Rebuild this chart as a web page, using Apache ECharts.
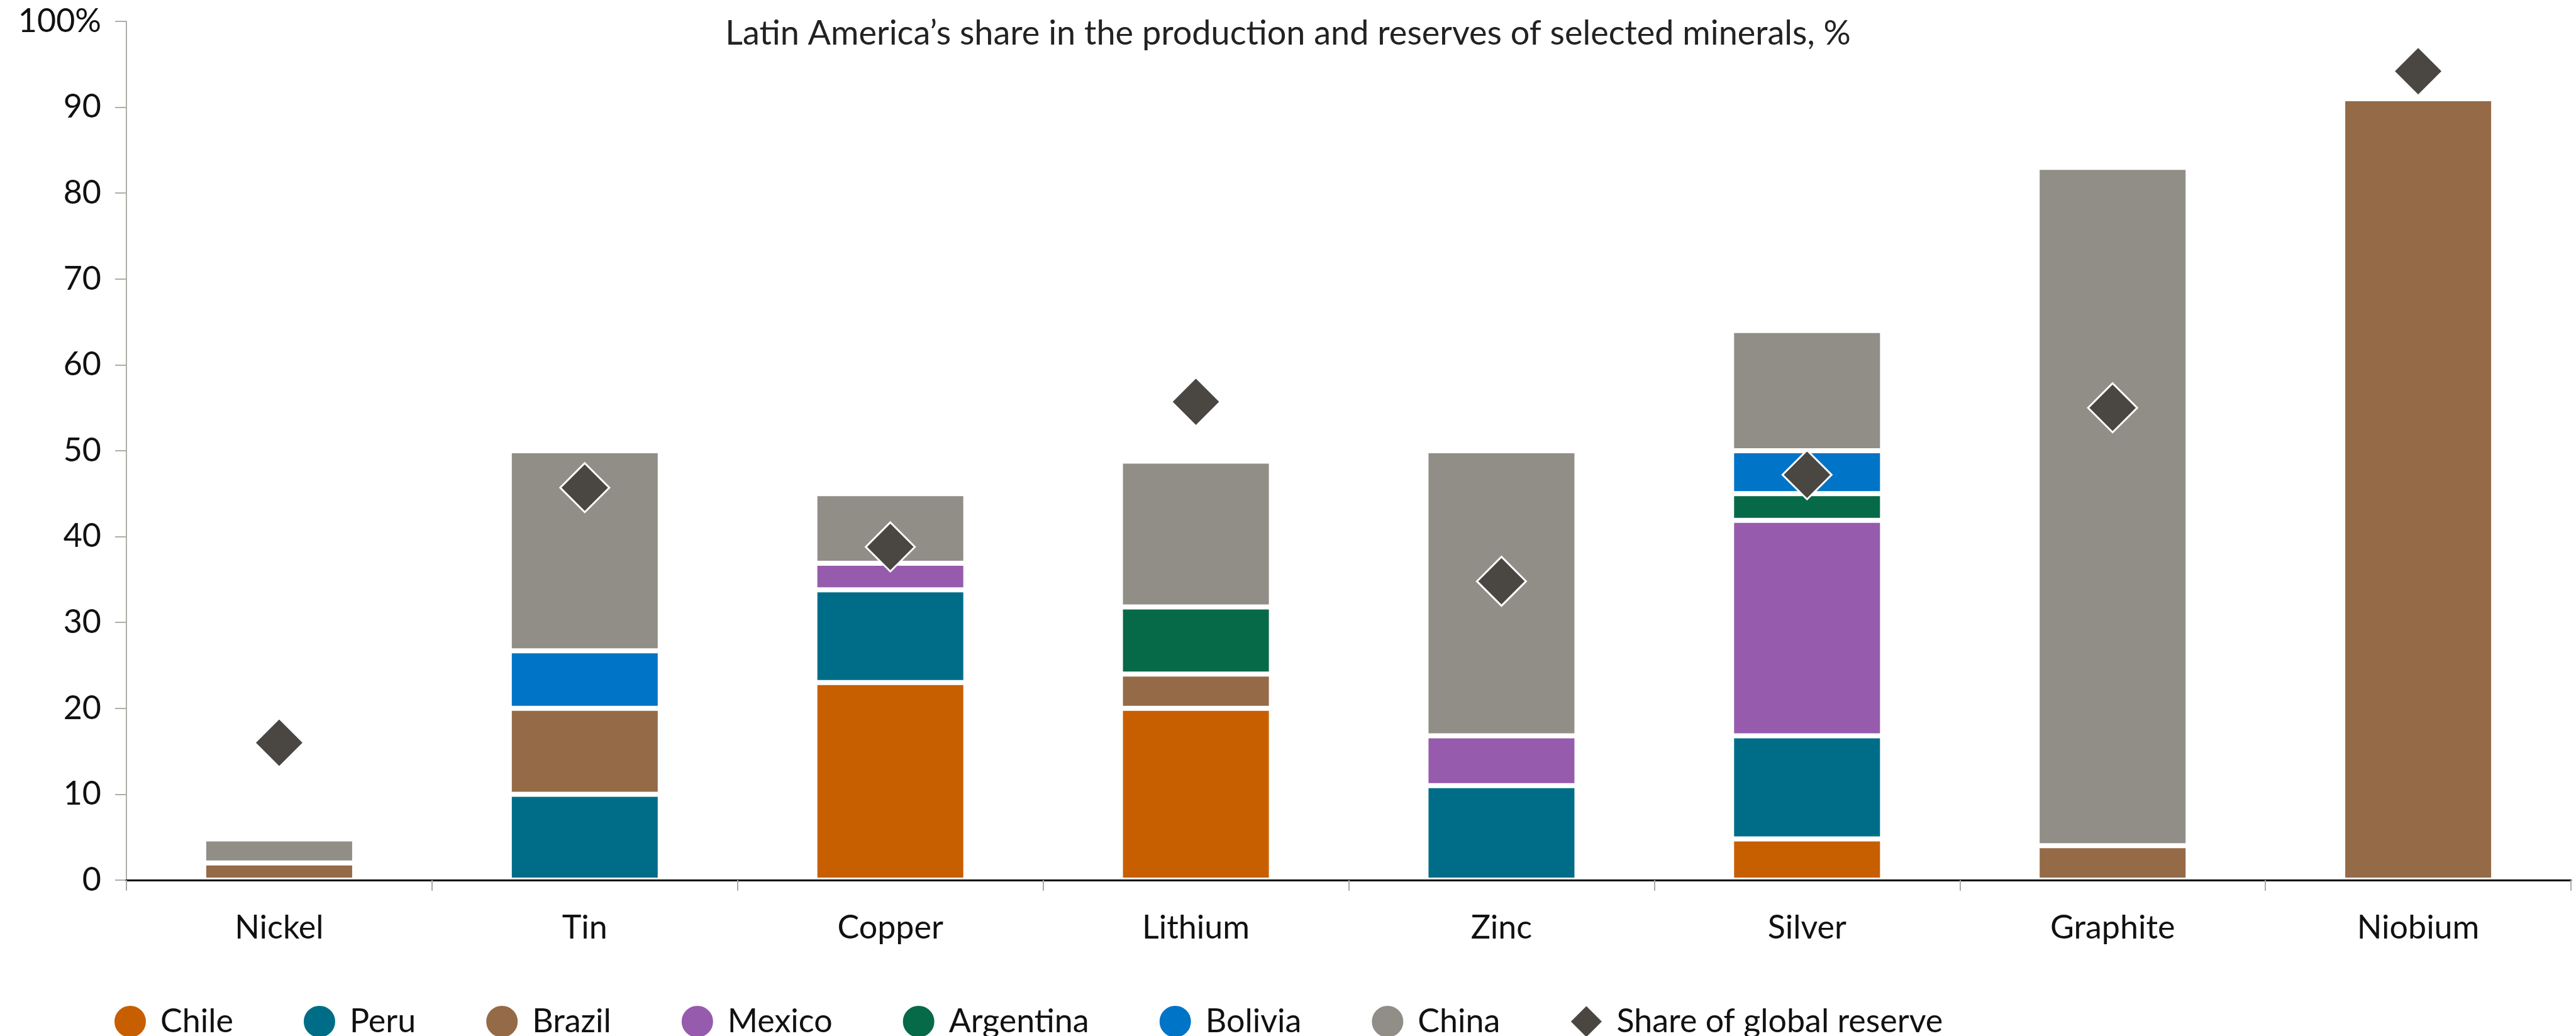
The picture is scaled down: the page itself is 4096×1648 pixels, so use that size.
<!DOCTYPE html>
<html>
<head>
<meta charset="utf-8">
<title>Latin America's share in minerals</title>
<script src="https://cdn.jsdelivr.net/npm/echarts@6/dist/echarts.min.js"></script>
<style>
  html, body { margin: 0; padding: 0; background: #ffffff; }
  #chart { width: 4096px; height: 1648px; }
</style>
</head>
<body>
<div id="chart"></div>
<script>
// Minerals on the category axis
const minerals = ['Nickel', 'Tin', 'Copper', 'Lithium', 'Zinc', 'Silver', 'Graphite', 'Niobium'];

// Production share by country, % (segment heights, stacked bottom to top)
const chile     = [null, null, 23,   20,   null, 4.8,  null, null];
const peru      = [null, 10,   10.8, null, 11,   12,   null, null];
const brazil    = [2,    10,   null, 4,    null, null, 4,    91];
const mexico    = [null, null, 3.1,  null, 5.8,  25.1, null, null];
const argentina = [null, null, null, 7.8,  null, 3.1,  null, null];
const bolivia   = [null, 6.7,  null, null, null, 5,    null, null];
const china     = [2.8,  23.3, 8.1,  17,   33.2, 14,   79,   null];

// Latin America's share of global reserves, %
const reserveShare = [16, 45.7, 38.8, 55.7, 34.8, 47.2, 55, 94.2];

// Value axis ticks
const yTicks = [0, 10, 20, 30, 40, 50, 60, 70, 80, 90, 100];

const FONT = 'Lato, "Liberation Sans", sans-serif';
const TEXT = '#111111';

const stackDefs = [
  { name: 'Chile',     data: chile,     color: '#c75e00' },
  { name: 'Peru',      data: peru,      color: '#006d88' },
  { name: 'Brazil',    data: brazil,    color: '#946a47' },
  { name: 'Mexico',    data: mexico,    color: '#965bad' },
  { name: 'Argentina', data: argentina, color: '#066a48' },
  { name: 'Bolivia',   data: bolivia,   color: '#0074c7' },
  { name: 'China',     data: china,     color: '#918e88' }
];

const barSeries = stackDefs.map(d => ({
  name: d.name,
  type: 'bar',
  stack: 'production',
  barWidth: 240,
  data: d.data,
  itemStyle: { color: d.color, borderColor: '#ffffff', borderWidth: 4 },
  emphasis: { disabled: true }
}));

const chart = echarts.init(document.getElementById('chart'), null, { renderer: 'canvas' });

chart.setOption({
  animation: false,
  backgroundColor: '#ffffff',
  title: {
    text: 'Latin America\u2019s share in the production and reserves of selected minerals, %',
    left: 'center',
    top: 22,
    textStyle: { fontFamily: FONT, fontSize: 54, fontWeight: 'normal', color: '#222222' }
  },
  legend: {
    left: 175,
    top: 1593,
    itemWidth: 52,
    itemHeight: 52,
    itemGap: 110,
    textStyle: { fontFamily: FONT, fontSize: 52, color: TEXT, padding: [0, 0, 0, 17] },
    data: [
      ...stackDefs.map(d => ({ name: d.name, icon: 'circle' })),
      { name: 'Share of global reserve', icon: 'diamond' }
    ]
  },
  grid: { left: 201, right: 8, top: 34, bottom: 248 },
  xAxis: {
    type: 'category',
    data: minerals,
    z: 5,
    axisLine: { show: true, lineStyle: { color: '#000000', width: 3 } },
    axisTick: { show: true, interval: 0, alignWithLabel: false, length: 17, lineStyle: { color: '#aaaaaa', width: 2 } },
    axisLabel: { interval: 0, margin: 50, fontFamily: FONT, fontSize: 52, color: TEXT }
  },
  yAxis: {
    type: 'value',
    min: yTicks[0],
    max: yTicks[yTicks.length - 1],
    interval: 10,
    axisLine: { show: true, lineStyle: { color: '#b0aca8', width: 2 } },
    axisTick: { show: true, inside: false, length: 18, lineStyle: { color: '#b0aca8', width: 2 } },
    splitLine: { show: false },
    axisLabel: {
      margin: 40,
      fontFamily: FONT,
      fontSize: 52,
      color: TEXT,
      formatter: v => (v === 100 ? '100%' : String(v))
    }
  },
  series: [
    ...barSeries,
    {
      name: 'Share of global reserve',
      type: 'scatter',
      symbol: 'diamond',
      symbolSize: 78,
      z: 10,
      data: reserveShare,
      itemStyle: { color: '#4a4742', borderColor: '#ffffff', borderWidth: 3, opacity: 1 },
      emphasis: { disabled: true }
    }
  ]
});
</script>
</body>
</html>
